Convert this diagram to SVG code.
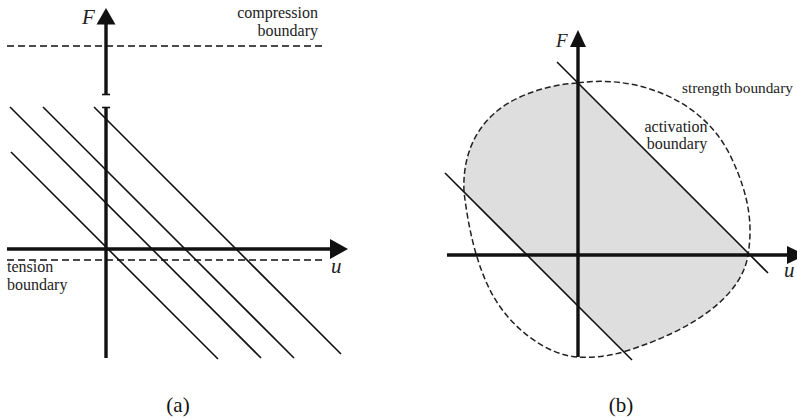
<svg xmlns="http://www.w3.org/2000/svg" width="797" height="420" viewBox="0 0 797 420">
  <style>
    .axis { stroke: #111; stroke-width: 3.4; fill: none; }
    .thin { stroke: #111; stroke-width: 1.6; fill: none; stroke-linecap: butt; }
    .dashA { stroke: #111; stroke-width: 1.7; fill: none; stroke-dasharray: 7 4; }
    .dashB { stroke: #222; stroke-width: 1.5; fill: none; stroke-dasharray: 6 3; }
    .head { fill: #111; stroke: none; }
    .lbl { font-family: "Liberation Serif", "Times New Roman", serif; font-size: 16px; fill: #222; }
    .var { font-family: "Liberation Serif", "Times New Roman", serif; font-style: italic; font-size: 21px; fill: #222; }
    .cap { font-family: "Liberation Serif", "Times New Roman", serif; font-size: 21px; fill: #111; }
  </style>
  <rect width="797" height="420" fill="#fff"/>

  <!-- Panel (a) -->
  <g id="panel-a">
    <g id="a-boundaries">
      <line class="dashA" x1="7" y1="46" x2="322" y2="46"/>
      <line class="dashA" x1="7" y1="260" x2="322" y2="260"/>
    </g>
    <g id="a-lines">
      <line class="thin" x1="11" y1="152" x2="218" y2="359"/>
      <line class="thin" x1="10" y1="107" x2="261" y2="358"/>
      <line class="thin" x1="43" y1="107" x2="294" y2="358"/>
      <line class="thin" x1="94" y1="107" x2="341" y2="354"/>
    </g>
    <g id="a-axes">
      <line class="axis" x1="106" y1="22" x2="106" y2="95"/>
      <line class="thin" x1="102" y1="94.5" x2="110" y2="94.5"/>
      <line class="thin" x1="102" y1="107.5" x2="110" y2="107.5"/>
      <line class="axis" x1="106" y1="107" x2="106" y2="358"/>
      <polygon class="head" points="106,8 96.5,24.5 115.5,24.5"/>
      <line class="axis" x1="7" y1="249" x2="332" y2="249"/>
      <polygon class="head" points="348,249 330,239 330,259"/>
    </g>
    <g id="a-labels">
      <text class="var" x="82" y="24">F</text>
      <text class="var" x="331" y="273">u</text>
      <text class="lbl" x="318" y="18" text-anchor="end">compression</text>
      <text class="lbl" x="318" y="36" text-anchor="end">boundary</text>
      <text class="lbl" x="7" y="272">tension</text>
      <text class="lbl" x="7" y="290">boundary</text>
      <text class="cap" x="178" y="412" text-anchor="middle">(a)</text>
    </g>
  </g>

  <!-- Panel (b) -->
  <g id="panel-b">
    <path id="b-region" fill="#dedede" stroke="none"
      d="M578,83 L748,255 C742,295 695,330 623,352 L464,192 C462,150 480,115 520,97 C540,88 560,84 578,83 Z"/>
    <path id="b-strength" class="dashB"
      d="M578,83 C630,75 700,95 730,155 C752,200 752,230 748,255 C742,295 695,330 623,352 C605,357 590,358 578,357 C550,356 510,330 490,290 C475,260 468,225 464,192 C462,150 480,115 520,97 C540,88 560,84 578,83 Z"/>
    <g id="b-activation">
      <line class="thin" x1="557" y1="62" x2="768" y2="273"/>
      <line class="thin" x1="445" y1="173" x2="632" y2="360"/>
    </g>
    <g id="b-axes">
      <line class="axis" x1="578" y1="45" x2="578" y2="357"/>
      <polygon class="head" points="578,30 570,47 586,47"/>
      <line class="axis" x1="447" y1="255" x2="790" y2="255"/>
      <polygon class="head" points="806,255 787,246 787,264"/>
    </g>
    <g id="b-labels">
      <text class="var" x="556" y="47" style="font-size:19px">F</text>
      <text class="var" x="784" y="277">u</text>
      <text class="lbl" x="682" y="93" style="font-size:15.3px">strength boundary</text>
      <text class="lbl" x="676" y="132" text-anchor="middle">activation</text>
      <text class="lbl" x="677" y="149" text-anchor="middle">boundary</text>
      <text class="cap" x="621" y="412" text-anchor="middle">(b)</text>
    </g>
  </g>
</svg>
